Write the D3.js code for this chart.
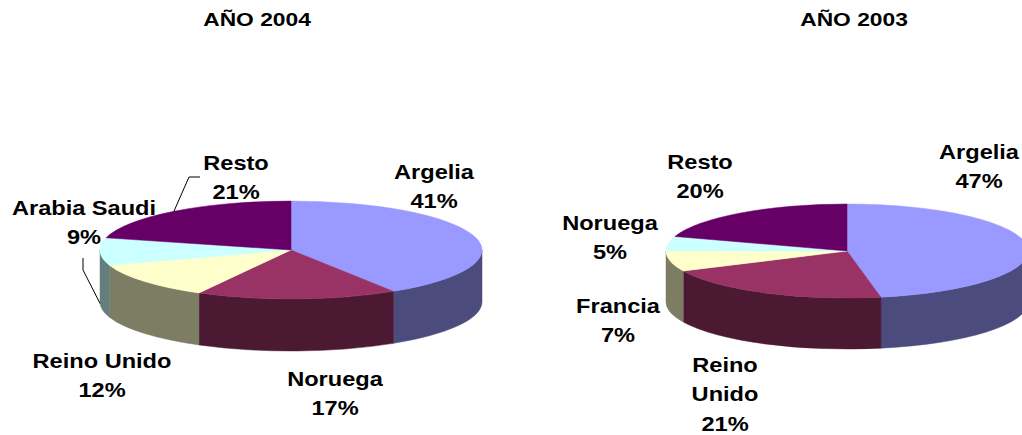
<!DOCTYPE html>
<html>
<head>
<meta charset="utf-8">
<script src="https://cdn.jsdelivr.net/npm/d3@7"></script>
<style>
  body { margin: 0; background: #fff; }
  text { font-family: "Liberation Sans", Arial, sans-serif; font-weight: bold; fill: #000; }
</style>
</head>
<body>
<div id="chart"></div>
<script>
// --- data ---
const cats2004 = ["Argelia", "Noruega", "Reino Unido", "Arabia Saudi", "Resto"];
const vals2004 = [41, 17, 12, 9, 21];
const cats2003 = ["Argelia", "Reino Unido", "Francia", "Noruega", "Resto"];
const vals2003 = [47, 21, 7, 5, 20];
const palette = ["#9999FF", "#993366", "#FFFFCC", "#CCFFFF", "#660066"];

// --- layout (label centres, leader elbows) ---
const labels2004 = [
    { x: 434, y: 172 }, { x: 335, y: 379 }, { x: 102, y: 361 },
    { x: 84, y: 208, leader: [[83, 258], [83, 270]], leaderEnd: "bottom" },
    { x: 236, y: 163, leader: [[200, 177], [189, 177]], leaderEnd: "top" }
];
const labels2003 = [
    { x: 979, y: 152 }, { x: 725, y: 365, wrap: true }, { x: 618, y: 306 },
    { x: 610, y: 223 }, { x: 700, y: 162 }
];

const width = 1022, height = 435;
const svg = d3.select("#chart").append("svg")
    .attr("width", width)
    .attr("height", height);

const charts = [
    { title: "AÑO 2004", tx: 257, cats: cats2004, vals: vals2004, labels: labels2004,
      cx: 291, cy: 250, rx: 191, ry: 49, depth: 52 },
    { title: "AÑO 2003", tx: 854, cats: cats2003, vals: vals2003, labels: labels2003,
      cx: 847, cy: 251, rx: 181, ry: 47, depth: 51 }
];

const pie = d3.pie().sort(null).value(d => d);

charts.forEach(c => {
    const g = svg.append("g");
    const pt = (a, dy = 0) => [c.cx + c.rx * Math.sin(a), c.cy - c.ry * Math.cos(a) + dy];
    const arcs = pie(c.vals);

    // side walls (front half only)
    arcs.forEach((d, i) => {
        const s = Math.max(d.startAngle, Math.PI / 2);
        const e = Math.min(d.endAngle, 3 * Math.PI / 2);
        if (e <= s) return;
        const path = `M${pt(s)}A${c.rx},${c.ry} 0 0 1 ${pt(e)}` +
            `L${pt(e, c.depth)}A${c.rx},${c.ry} 0 0 0 ${pt(s, c.depth)}Z`;
        const col = d3.rgb(palette[i]).darker(2);
        g.append("path")
            .attr("d", path)
            .attr("fill", col)
            .attr("stroke", col)
            .attr("stroke-width", 0.5);
    });

    // top faces
    arcs.forEach((d, i) => {
        const large = d.endAngle - d.startAngle > Math.PI ? 1 : 0;
        const path = `M${c.cx},${c.cy}L${pt(d.startAngle)}` +
            `A${c.rx},${c.ry} 0 ${large} 1 ${pt(d.endAngle)}Z`;
        g.append("path")
            .attr("d", path)
            .attr("fill", palette[i])
            .attr("stroke", palette[i])
            .attr("stroke-width", 0.5);
    });

    // title
    svg.append("text")
        .attr("transform", `translate(${c.tx},26) scale(1.2,1)`)
        .attr("text-anchor", "middle")
        .style("font-size", "19px")
        .text(c.title);

    // labels
    arcs.forEach((d, i) => {
        const L = c.labels[i];
        const name = c.cats[i];
        const lines = (L.wrap ? name.split(" ") : [name]).concat([d.value + "%"]);
        const t = g.append("text")
            .attr("transform", `translate(${L.x},${L.y + 7}) scale(1.18,1)`)
            .attr("text-anchor", "middle")
            .style("font-size", "20px");
        lines.forEach((ln, k) => {
            t.append("tspan").attr("x", 0).attr("y", k * 29.5).text(ln);
        });

        if (L.leader) {
            const mid = (d.startAngle + d.endAngle) / 2;
            const end = pt(mid, L.leaderEnd === "bottom" ? c.depth : 0);
            g.append("path")
                .attr("d", d3.line()(L.leader.concat([end])))
                .attr("fill", "none")
                .attr("stroke", "#000")
                .attr("stroke-width", 1);
        }
    });
});
</script>
</body>
</html>
